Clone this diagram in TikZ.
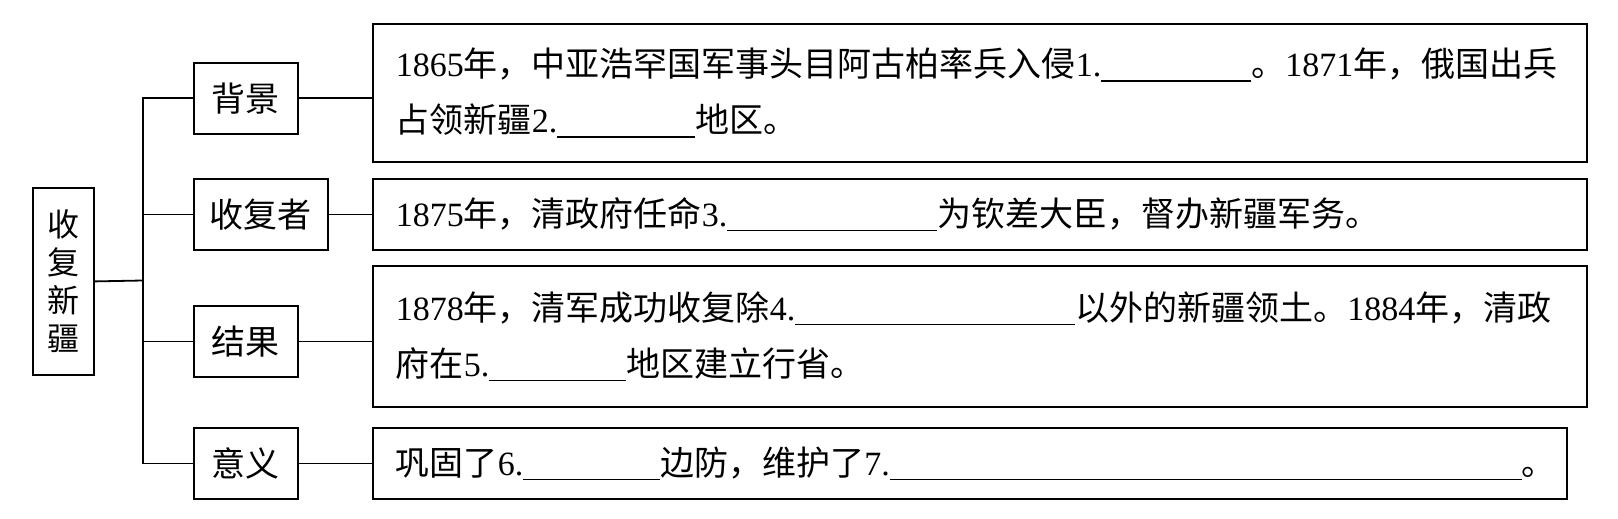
\documentclass[tikz,border=0pt]{standalone}
\usepackage{fontspec}
\setmainfont{Noto Sans CJK SC}
\newfontfamily\tnr{Liberation Serif}
\newcommand\latn[1]{{\tnr #1}}
\newcommand\blank[1]{\rule[-5pt]{#1pt}{1.5pt}}

\begin{document}
\begin{tikzpicture}[x=1pt,y=-1pt,line width=1.8pt,
    every node/.style={draw,rectangle,inner sep=0pt,anchor=north west},
    catbox/.style={minimum height=71pt,font=\fontsize{34}{40}\selectfont},
    textbox/.style={inner xsep=23pt,align=left,font=\fontsize{34}{56}\selectfont}]
  \useasboundingbox (0,0) rectangle (1618,519);
  % left column
  \node[minimum width=61pt,minimum height=187pt,align=center,
        font=\fontsize{32}{38}\selectfont] (root) at (32,187) {收\\复\\新\\疆};
  \node[catbox,minimum width=104pt] (bg)  at (193,62)  {背景};
  \node[catbox,minimum width=134pt] (sfz) at (193,178) {收复者};
  \node[catbox,minimum width=104pt] (jg)  at (193,305) {结果};
  \node[catbox,minimum width=104pt] (yy)  at (193,427) {意义};
  % right column
  \node[textbox,text width=1168pt,minimum height=138pt] (c1) at (372,23)
    {\latn{1865}年，中亚浩罕国军事头目阿古柏率兵入侵\latn{1.}\blank{150}。\latn{1871}年，俄国出兵\\
     占领新疆\latn{2.}\blank{138}地区。};
  \node[textbox,text width=1168pt,minimum height=71pt] (c2) at (372,178)
    {\latn{1875}年，清政府任命\latn{3.}\blank{210}为钦差大臣，督办新疆军务。};
  \node[textbox,text width=1168pt,minimum height=141pt] (c3) at (372,265)
    {\latn{1878}年，清军成功收复除\latn{4.}\blank{280}以外的新疆领土。\latn{1884}年，清政\\
     府在\latn{5.}\blank{137}地区建立行省。};
  \node[textbox,text width=1148pt,minimum height=71pt] (c4) at (372,427)
    {巩固了\latn{6.}\blank{137}边防，维护了\latn{7.}\blank{632}。};
  % connectors
  \coordinate (trunk) at (143,280.5);
  \draw (root.east) -- (trunk);
  \draw (bg.west) -| (trunk) |- (yy.west);
  \draw (trunk |- sfz.west) -- (sfz.west);
  \draw (trunk |- jg.west) -- (jg.west);
  \foreach \c/\t in {bg/c1,sfz/c2,jg/c3,yy/c4}
    \draw (\c.east) -- (\c.east -| \t.west);
\end{tikzpicture}
\end{document}
